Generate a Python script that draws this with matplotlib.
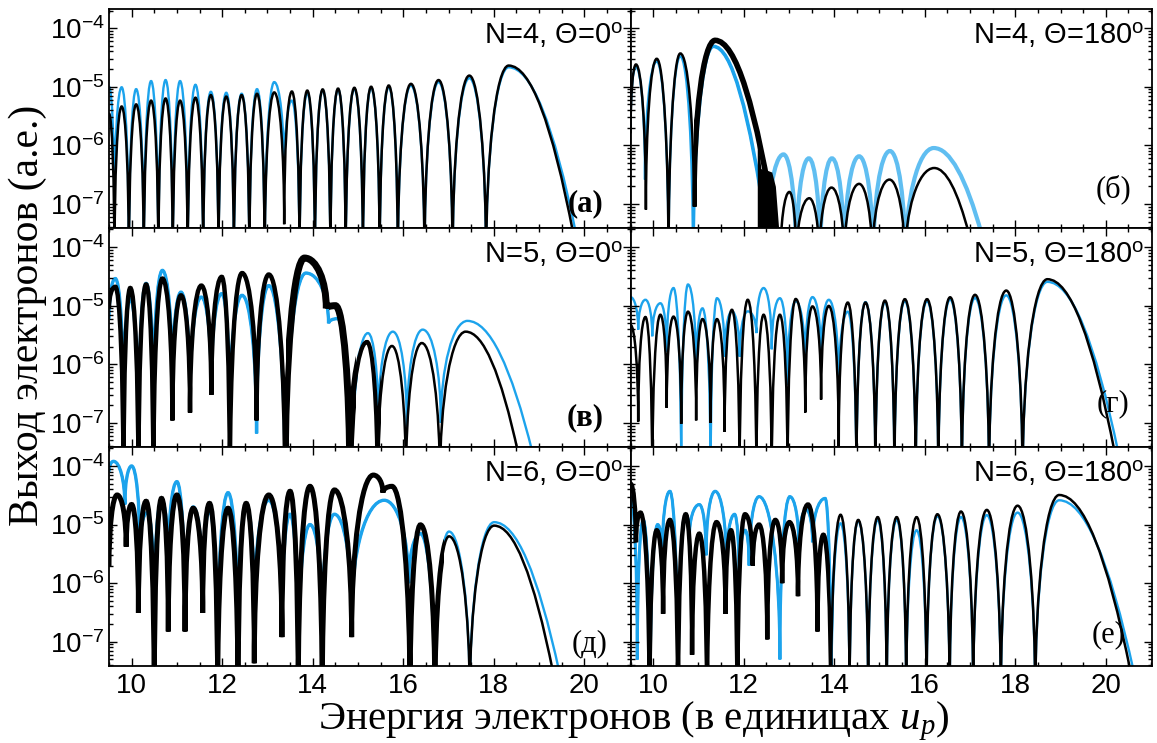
import numpy as np
import matplotlib
matplotlib.use('Agg')
import matplotlib.pyplot as plt
from matplotlib.path import Path
from matplotlib.patches import PathPatch, Rectangle
from matplotlib.ticker import MultipleLocator, LogLocator

plt.rcParams['font.family'] = 'Liberation Sans'
plt.rcParams['mathtext.fontset'] = 'custom'
plt.rcParams['mathtext.rm'] = 'Liberation Sans'
plt.rcParams['mathtext.it'] = 'Liberation Serif:italic'

Z = 1e-8  # exact zero of the spectrum (below the axis)
BLUE = '#1ca3ec'

# turning points (energy, yield); minima and maxima alternate
# (а) N=4, 0 deg
a_black = [(9.50, 3.5e-6), (9.62, Z), (9.78, 4.6e-6), (9.94, Z), (10.10, 5.0e-6), (10.27, Z),
           (10.43, 5.8e-6), (10.59, Z), (10.75, 6.3e-6), (10.91, Z), (11.07, 5.8e-6), (11.24, Z),
           (11.41, 6.5e-6), (11.58, Z), (11.75, 7.2e-6), (11.92, Z), (12.09, 6.8e-6), (12.26, Z),
           (12.43, 7.2e-6), (12.60, Z), (12.77, 7.6e-6), (12.94, Z), (13.15, 8.0e-6), (13.37, 4.5e-8),
           (13.54, 8.3e-6), (13.71, Z), (13.88, 8.6e-6), (14.05, Z), (14.22, 9.0e-6), (14.39, Z),
           (14.56, 9.3e-6), (14.73, Z), (14.92, 9.6e-6), (15.11, Z), (15.29, 1.0e-5), (15.48, Z),
           (15.68, 1.05e-5), (15.88, Z), (16.17, 1.12e-5), (16.47, Z), (16.78, 1.3e-5), (17.09, Z),
           (17.46, 1.55e-5), (17.83, Z), (18.33, 2.3e-5), (19.76, 3e-8)]
a_blue = [(9.50, 1.0e-5), (9.62, 7e-8), (9.78, 9.8e-6), (9.94, Z), (10.10, 9.1e-6), (10.27, Z),
          (10.43, 1.25e-5), (10.59, Z), (10.75, 1.3e-5), (10.91, Z), (11.07, 1.25e-5), (11.24, Z),
          (11.41, 1.08e-5), (11.58, Z), (11.75, 8.2e-6), (11.92, Z), (12.09, 7.9e-6), (12.26, Z),
          (12.43, 7.6e-6), (12.60, Z), (12.77, 9.1e-6), (12.94, Z), (13.15, 1.2e-5), (13.37, 3e-7),
          (13.54, 5.8e-6), (13.71, Z), (13.88, 7.8e-6), (14.05, Z), (14.22, 8.8e-6), (14.39, Z),
          (14.56, 9.0e-6), (14.73, Z), (14.92, 9.2e-6), (15.11, Z), (15.29, 9.6e-6), (15.48, Z),
          (15.68, 1.0e-5), (15.88, Z), (16.17, 1.05e-5), (16.47, Z), (16.78, 1.2e-5), (17.09, Z),
          (17.46, 1.4e-5), (17.83, Z), (18.33, 2.15e-5), (19.82, 3e-8)]

# (б) N=4, 180 deg
b_black_hi = [(9.50, 1.6e-6), (9.62, 2.4e-5), (9.84, 8e-8), (10.08, 3.0e-5), (10.34, Z),
              (10.60, 3.7e-5), (10.90, 9e-8), (11.37, 6.2e-5), (12.72, 3e-8)]
b_black_lo = [(12.81, Z), (13.01, 1.6e-7), (13.16, Z), (13.45, 1.25e-7), (13.67, Z), (13.94, 1.9e-7),
              (14.22, Z), (14.55, 2.2e-7), (14.84, Z), (15.22, 2.6e-7), (15.56, Z), (16.21, 4.1e-7),
              (16.98, 3e-8)]
b_blob_x = [12.30, 12.38, 12.50, 12.62, 12.70, 12.77]
b_blob_y = [1.5e-6, 4e-7, 3.8e-7, 3.5e-7, 2e-7, 4e-8]
b_blue_hi = [(9.50, 2.0e-6), (9.62, 2.2e-5), (9.82, 2.6e-7), (10.08, 2.7e-5), (10.34, Z),
             (10.60, 3.3e-5), (10.88, Z), (11.33, 4.9e-5), (12.52, 3e-8)]
b_blue_lo = [(12.50, Z), (12.88, 7e-7), (13.16, Z), (13.44, 6e-7), (13.69, Z), (13.95, 6e-7),
             (14.22, Z), (14.55, 6.5e-7), (14.86, Z), (15.23, 8e-7), (15.57, Z), (16.20, 9e-7),
             (17.26, 3e-8)]

# (в) N=5, 0 deg
v_black = [(9.50, 9e-6), (9.64, 2.1e-5), (9.82, Z), (9.97, 2.0e-5), (10.15, Z), (10.32, 2.3e-5),
           (10.48, Z), (10.68, 2.9e-5), (10.90, 1.1e-7), (11.09, 1.5e-5), (11.29, 1.5e-7),
           (11.54, 2.2e-5), (11.76, 3e-7), (11.99, 3.1e-5), (12.17, Z), (12.44, 3.6e-5),
           (12.76, 1.1e-7), (13.03, 3.4e-5), (13.39, Z), (13.82, 6.5e-5), (14.30, 9e-6),
           (14.50, 1.0e-5), (14.82, Z), (15.20, 2.4e-6), (15.43, Z), (15.75, 2.05e-6), (16.06, Z),
           (16.41, 2.3e-6), (16.81, Z), (17.38, 3.6e-6), (18.54, 3e-8)]
v_blue = [(9.50, 6e-6), (9.64, 2.9e-5), (9.82, 1.9e-7), (9.97, 1.3e-5), (10.15, 4.5e-8),
          (10.32, 2.4e-5), (10.48, 1.9e-7), (10.68, 4.0e-5), (10.90, 4.2e-7), (11.09, 1.7e-5),
          (11.29, 2.5e-7), (11.54, 1.4e-5), (11.76, 4.2e-7), (11.99, 1.6e-5), (12.17, 1.5e-7),
          (12.44, 1.5e-5), (12.76, 6.6e-8), (13.03, 2.2e-5), (13.39, Z), (13.85, 3.6e-5),
          (14.35, 5e-6), (14.55, 6e-6), (14.85, Z), (15.22, 3.4e-6), (15.45, 1e-7), (15.77, 3.6e-6),
          (16.08, 8.7e-8), (16.43, 3.9e-6), (16.83, 1e-7), (17.42, 5.5e-6), (18.86, 3e-8)]

# (г) N=5, 180 deg
g_black = [(9.50, 4.7e-6), (9.67, 1.05e-7), (9.83, 6.4e-6), (9.98, Z), (10.16, 7.0e-6),
           (10.30, 1.8e-7), (10.45, 6.5e-6), (10.62, 9.6e-8), (10.77, 7.9e-6), (10.95, 1.1e-7),
           (11.09, 5.9e-6), (11.27, 1e-7), (11.41, 5.9e-6), (11.58, 7e-8), (11.74, 8.5e-6),
           (11.91, Z), (12.09, 1.26e-5), (12.28, Z), (12.44, 7.0e-6), (12.62, Z), (12.80, 7.0e-6),
           (12.97, Z), (13.15, 1.3e-5), (13.36, 1.5e-7), (13.52, 9.7e-6), (13.71, 2.5e-7),
           (13.88, 9.9e-6), (14.10, 4e-8), (14.30, 1.13e-5), (14.49, Z), (14.69, 1.13e-5),
           (14.91, Z), (15.12, 1.22e-5), (15.33, Z), (15.56, 1.29e-5), (15.80, Z), (16.05, 1.29e-5),
           (16.30, Z), (16.56, 1.39e-5), (16.82, Z), (17.11, 1.53e-5), (17.42, Z), (17.80, 1.81e-5),
           (18.16, Z), (18.71, 2.83e-5), (20.20, 3e-8)]
g_blue = [(9.50, 1.4e-5), (9.67, 3.9e-6), (9.83, 1.26e-5), (9.98, 3.0e-6), (10.16, 1.1e-5),
          (10.30, 1.65e-6), (10.45, 2.0e-5), (10.62, Z), (10.77, 2.3e-5), (10.95, 7e-7),
          (11.09, 9e-6), (11.27, Z), (11.41, 1.34e-5), (11.58, 1.35e-6), (11.74, 8e-6),
          (11.91, 1.35e-6), (12.09, 8e-6), (12.28, 3.4e-6), (12.44, 2.0e-5), (12.62, 1.8e-6),
          (12.80, 1.34e-5), (12.97, 4.5e-7), (13.15, 1.2e-5), (13.36, 9e-7), (13.52, 1.4e-5),
          (13.71, 1.2e-6), (13.88, 1.26e-5), (14.10, 4.2e-7), (14.30, 7.9e-6), (14.49, Z),
          (14.69, 1.15e-5), (14.91, Z), (15.12, 1.15e-5), (15.33, Z), (15.56, 1.2e-5), (15.80, Z),
          (16.05, 1.2e-5), (16.30, Z), (16.56, 1.28e-5), (16.82, Z), (17.11, 1.35e-5), (17.42, Z),
          (17.80, 1.5e-5), (18.16, Z), (18.71, 2.55e-5), (20.28, 3e-8)]

# (д) N=6, 0 deg
d_black = [(9.50, 1.9e-6), (9.68, 3.2e-5), (9.88, 4.2e-6), (10.00, 2.2e-5), (10.15, 3.1e-7),
           (10.32, 2.5e-5), (10.50, Z), (10.66, 2.8e-5), (10.81, 1.5e-7), (11.00, 3.2e-5),
           (11.18, 1.5e-7), (11.36, 1.9e-5), (11.57, 3.1e-7), (11.72, 2.3e-5), (11.90, Z),
           (12.13, 1.9e-5), (12.35, Z), (12.53, 2.3e-5), (12.71, 4.3e-8), (13.03, 3.2e-5),
           (13.32, 1.2e-7), (13.50, 3.7e-5), (13.68, Z), (13.94, 4.5e-5), (14.21, Z), (14.48, 3.9e-5),
           (14.86, 1.2e-7), (15.34, 7e-5), (15.55, 3.5e-5), (15.75, 4.5e-5), (16.15, Z),
           (16.38, 9.9e-6), (16.70, Z), (17.01, 6.3e-6), (17.47, Z), (18.01, 9.6e-6), (19.31, 3e-8)]
d_blue = [(9.50, 8e-5), (9.60, 1.2e-4), (9.85, 2.2e-5), (10.00, 1.0e-4), (10.18, 4e-6),
          (10.35, 1.6e-5), (10.50, 3e-7), (10.66, 2.6e-5), (10.81, 2e-6), (11.00, 5.4e-5),
          (11.18, 2e-7), (11.36, 2.0e-5), (11.57, 6e-7), (11.72, 1.7e-5), (11.90, 5e-8),
          (12.13, 3.5e-5), (12.35, 8e-8), (12.53, 2.1e-5), (12.71, 3e-7), (13.03, 2.6e-5),
          (13.32, 2e-7), (13.50, 1.5e-5), (13.68, 5e-8), (13.94, 1.0e-5), (14.21, 2e-7),
          (14.48, 1.5e-5), (14.86, 3e-7), (15.58, 2.6e-5), (16.12, 1e-6), (16.38, 7e-6), (16.70, Z),
          (17.01, 7.6e-6), (17.47, Z), (18.01, 1.1e-5), (19.45, 3e-8)]

# (е) N=6, 180 deg
e_black = [(9.50, 5e-5), (9.62, 5e-6), (9.72, 1.6e-5), (9.92, Z), (10.08, 8e-6), (10.22, 3e-7),
           (10.37, 1.2e-5), (10.55, Z), (10.72, 1.5e-5), (10.86, 6e-8), (11.02, 7e-6), (11.19, Z),
           (11.40, 1.1e-5), (11.60, 3e-7), (11.72, 8e-6), (11.86, Z), (12.03, 1.5e-5), (12.20, 2e-6),
           (12.34, 1.0e-5), (12.52, 1.1e-7), (12.70, 1.2e-5), (12.85, 1e-6), (13.01, 1.1e-5),
           (13.20, 6e-7), (13.42, 2.2e-5), (13.63, 1.5e-7), (13.76, 6.7e-6), (13.93, Z),
           (14.14, 1.47e-5), (14.34, Z), (14.53, 1.2e-5), (14.75, Z), (14.96, 1.34e-5), (15.16, Z),
           (15.38, 1.34e-5), (15.59, Z), (15.82, 1.34e-5), (16.04, Z), (16.28, 1.5e-5), (16.55, Z),
           (16.80, 1.67e-5), (17.07, Z), (17.37, 1.78e-5), (17.68, Z), (18.05, 2.1e-5), (18.44, Z),
           (18.97, 3.2e-5), (20.55, 3e-8)]
e_blue = [(9.50, 3e-5), (9.65, 5e-8), (9.78, 1.2e-5), (9.93, Z), (10.10, 1.0e-5), (10.20, 3e-6),
          (10.37, 3.7e-5), (10.55, Z), (10.72, 1.5e-5), (10.80, 6e-6), (11.02, 2.2e-5), (11.17, 3e-6),
          (11.37, 3.7e-5), (11.62, 2e-6), (11.80, 1.5e-5), (11.90, 1e-6), (12.03, 8e-6), (12.12, 2e-6),
          (12.34, 3.0e-5), (12.80, 5e-8), (13.02, 3.0e-5), (13.22, 4e-6), (13.38, 1.8e-5),
          (13.52, 5e-6), (13.80, 2.8e-5), (13.93, Z), (14.14, 1.05e-5), (14.34, Z), (14.53, 1.15e-5),
          (14.75, Z), (14.96, 1.2e-5), (15.16, Z), (15.38, 1.2e-5), (15.59, Z), (15.82, 8e-6),
          (16.04, Z), (16.28, 1.4e-5), (16.55, Z), (16.80, 1.35e-5), (17.07, Z), (17.37, 1.45e-5),
          (17.68, Z), (18.05, 1.6e-5), (18.44, Z), (18.97, 2.6e-5), (20.62, 3e-8)]

titles = ['N=4, Θ=0', 'N=4, Θ=180', 'N=5, Θ=0', 'N=5, Θ=180', 'N=6, Θ=0', 'N=6, Θ=180']
letters = ['(а)', '(б)', '(в)', '(г)', '(д)', '(е)']

K = 0.55  # bezier handle of a quarter ellipse


def arch_path(pts):
    # smooth arches through the turning points, built in log space
    xs = [p[0] for p in pts]
    ls = [np.log10(p[1]) for p in pts]
    top = ls[0] > ls[1]
    verts = [(xs[0], ls[0])]
    codes = [Path.MOVETO]
    for i in range(len(pts) - 1):
        x0, l0, x1, l1 = xs[i], ls[i], xs[i + 1], ls[i + 1]
        if i == len(pts) - 2 and top:
            verts += [((x0 + x1) / 2, l0), (x1, l1)]
            codes += [Path.CURVE3] * 2
        elif top:
            verts += [(x0 + K * (x1 - x0), l0), (x1, l1 + K * (l0 - l1)), (x1, l1)]
            codes += [Path.CURVE4] * 3
        else:
            verts += [(x0, l0 + K * (l1 - l0)), (x1 - K * (x1 - x0), l1), (x1, l1)]
            codes += [Path.CURVE4] * 3
        top = not top
    return Path([(x, 10 ** l) for x, l in verts], codes)


def draw(ax, pts, color, lw, spans=(), alpha=1.0):
    path = arch_path(pts)
    ax.add_patch(PathPatch(path, fill=False, ec=color, lw=lw, alpha=alpha))
    for x0, x1, w in spans:
        p = PathPatch(path, fill=False, ec=color, lw=w, alpha=alpha)
        ax.add_patch(p)
        p.set_clip_path(Rectangle((x0, 0), x1 - x0, 1, transform=ax.get_xaxis_transform()))


fig, axs = plt.subplots(3, 2, figsize=(11.57, 7.43), dpi=100)
fig.subplots_adjust(left=0.0942, right=0.9957, top=0.9875, bottom=0.1036, wspace=0, hspace=0)
axs = axs.ravel()

for ax in axs:
    ax.set_yscale('log')

draw(axs[0], a_blue, BLUE, 1.7)
draw(axs[0], a_black, 'k', 1.8)

draw(axs[1], b_blue_hi, BLUE, 1.7, [(10.9, 12.6, 2.6)])
draw(axs[1], b_blue_lo, BLUE, 3.0, alpha=0.7)
draw(axs[1], b_black_hi, 'k', 1.8, [(10.9, 12.75, 4.0)])
draw(axs[1], b_black_lo, 'k', 1.8)
axs[1].fill_between(b_blob_x, 1e-9, b_blob_y, color='k', lw=0)

draw(axs[2], v_blue, BLUE, 1.7, [(9.5, 15.0, 2.4)])
draw(axs[2], v_black, 'k', 1.8, [(9.5, 13.4, 3.2), (13.4, 14.95, 5.0), (14.95, 15.5, 3.0)])

draw(axs[3], g_blue, BLUE, 1.7)
draw(axs[3], g_black, 'k', 1.8)

draw(axs[4], d_blue, BLUE, 1.7, [(9.5, 16.8, 2.4)])
draw(axs[4], d_black, 'k', 1.8, [(9.5, 16.9, 3.6)])

draw(axs[5], e_blue, BLUE, 1.7, [(9.5, 14.0, 2.2)])
draw(axs[5], e_black, 'k', 1.8, [(9.5, 13.9, 3.2)])

label_pos = [(0.948, 0.077), (0.96, 0.143), (0.948, 0.10), (0.956, 0.162), (0.956, 0.066), (0.948, 0.111)]
label_wt = ['bold', 'normal', 'bold', 'normal', 'normal', 'normal']

for i, ax in enumerate(axs):
    ax.set_xlim(9.5, 21.02)
    ax.set_ylim(3.85e-8, 2.1e-4)
    ax.xaxis.set_major_locator(MultipleLocator(2))
    ax.xaxis.set_minor_locator(MultipleLocator(0.5))
    ax.yaxis.set_major_locator(LogLocator(base=10, numticks=20))
    ax.yaxis.set_minor_locator(LogLocator(base=10, subs=np.arange(2, 10), numticks=20))
    ax.tick_params(which='both', direction='in', top=True, right=True, labelsize=20, width=1)
    ax.tick_params(which='major', length=6)
    ax.tick_params(which='minor', length=3)
    ax.tick_params(axis='x', pad=5)
    ax.tick_params(axis='y', pad=3)
    for s in ax.spines.values():
        s.set_linewidth(1.3)
    if i % 2 == 1:
        ax.tick_params(labelleft=False)
    if i < 4:
        ax.tick_params(labelbottom=False)
    ax.text(0.985, 0.845, titles[i] + r'$^{\mathrm{o}}$', transform=ax.transAxes,
            ha='right', va='baseline', fontsize=21)
    ax.text(label_pos[i][0], label_pos[i][1], letters[i], transform=ax.transAxes,
            ha='right', va='baseline', fontsize=22, family='Liberation Serif',
            fontweight=label_wt[i])

fig.text(0.024, 0.575, 'Выход электронов (а.е.)', rotation=90, ha='center', va='center',
         fontsize=30, family='Liberation Serif')
fig.text(0.548, 0.018, r'Энергия электронов (в единицах $u_p$)', ha='center', va='baseline',
         fontsize=29.5, family='Liberation Serif')

fig.savefig('out.png', dpi=100)
